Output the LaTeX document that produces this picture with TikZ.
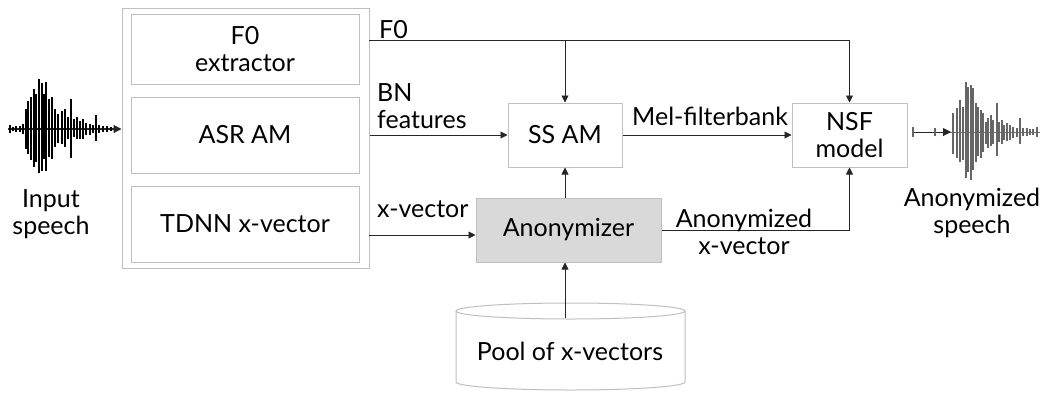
\documentclass[tikz,border=0pt]{standalone}
\usepackage{fontspec}
\setmainfont{Lato}
\usetikzlibrary{arrows.meta}
\definecolor{boxgray}{HTML}{BFBFBF}
\definecolor{anonfill}{HTML}{D9D9D9}
\begin{document}
\begin{tikzpicture}[x=1pt,y=-1pt,
  txt/.style={font=\fontsize{25}{27}\selectfont, inner sep=0pt, align=center},
  box/.style={draw=boxgray, line width=1pt, inner sep=0pt, txt},
  conn/.style={draw=black!85, line width=0.9pt},
  arr/.style={conn,-{Triangle[length=7pt,width=7pt]}},
  wbar/.style={line width=1.8pt},
]
\useasboundingbox (0,0) rectangle (1042,392);
\fill[white] (0,0) rectangle (1042,392);

% boxes
\node[box, minimum width=247pt, minimum height=260pt] (outer) at (245.5,138) {};
\node[box, minimum width=228pt, minimum height=70pt] (f0) at (245,49) {F0\\extractor};
\node[box, minimum width=228pt, minimum height=76pt] (asr) at (245,135) {ASR AM};
\node[box, minimum width=228pt, minimum height=76pt] (tdnn) at (245,224) {TDNN x-vector};
\node[box, minimum width=114pt, minimum height=64pt] (ssam) at (565,135) {SS AM};
\node[box, minimum width=115pt, minimum height=64pt] (nsf) at (849.5,135) {NSF\\model};
\node[box, fill=anonfill, minimum width=185pt, minimum height=64pt] (anon) at (568.5,230) {Anonymizer};

% cylinder
\draw[draw=boxgray, line width=1pt] (456,311) -- (456,382)
  arc[start angle=180, end angle=360, x radius=114.5pt, y radius=8pt] -- (685,311);
\draw[draw=boxgray, line width=1pt] (570.5,311) ellipse[x radius=114.5pt, y radius=8pt];
\node[txt, anchor=base] (pool) at (570,360) {Pool of x-vectors};
\coordinate (pooltop) at (565,318);

% coordinates
\coordinate (f0o) at (369,40);
\coordinate (xvo) at (369,235);

% connectors
\draw[arr] (f0o) -| (nsf.north);
\draw[arr] (ssam.north |- f0o) -- (ssam.north);
\draw[arr] (outer.east |- asr.east) -- (ssam.west);
\draw[arr] (ssam.east) -- (nsf.west);
\draw[arr] (xvo) -- (anon.west |- xvo);
\draw[arr] (anon.north -| ssam.south) -- (ssam.south);
\draw[arr] (anon.east) -| (nsf.south);
\draw[arr] (pooltop) -- (anon.south -| pooltop);

% labels
\node[txt, anchor=base west] (lf0) at (379,38) {F0};
\node[txt, anchor=west, align=left] (lbn) at (377,106) {BN\\features};
\node[txt, anchor=base west] (lxv) at (377,217) {x-vector};
\node[txt, anchor=base west] (lmel) at (632,125) {Mel-filterbank};
\node[txt] (lanx) at (744,232) {Anonymized\\x-vector};
\node[txt] (lin) at (51,214) {Input\\speech};
\node[txt] (lout) at (972,213) {Anonymized\\speech};

% input waveform
\coordinate (inwave) at (8,129);
\draw[conn, line width=1.2pt, -{Triangle[length=8pt,width=8pt]}] (inwave) -- (outer.west |- inwave);
\foreach \x/\u/\d in {10/4/4, 13/2/2, 16/3/3, 20/3/3, 23/5/5, 26/20/20, 28/28/25, 31/32/31, 34/40/38, 36/35/33, 39/50/44, 42/46/42, 44/35/30, 46/47/42, 49/30/28, 52/32/30, 55/20/18, 58/15/14, 62/18/15, 65/20/18, 68/12/10, 71/30/29, 74/10/8, 77/12/10, 80/8/10, 83/10/10, 86/6/6, 90/5/6, 93/4/4, 96/14/12, 99/4/4, 103/3/3, 107/3/3, 111/2/2}
  \draw[wbar, black] (\x,129) ++(0,-\u) -- ++(0,{\u+\d});

% output waveform
\coordinate (outwave) at (913,132);
\coordinate (outend) at (1040,132);
\draw[black!55, line width=1pt] (outwave) -- (outend);
\draw[black!85, line width=1pt, -{Triangle[length=8pt,width=8pt]}] (outwave) -- (951,132);
\foreach \x/\u/\d in {913/5/5, 935/4/4, 953/19/22, 957/24/26, 960/32/30, 963/25/28, 966/50/46, 968/45/40, 971/47/48, 973/44/38, 976/29/30, 978/25/24, 981/22/26, 983/19/20, 986/10/12, 988/14/16, 991/17/14, 993/12/12, 997/29/24, 999/10/10, 1002/12/12, 1004/7/8, 1007/9/9, 1010/7/8, 1013/5/6, 1017/4/5, 1020/14/12, 1023/4/4, 1027/4/4, 1030/3/3, 1033/3/3, 1037/5/5}
  \draw[wbar, black!60] (\x,132) ++(0,-\u) -- ++(0,{\u+\d});
\end{tikzpicture}
\end{document}
